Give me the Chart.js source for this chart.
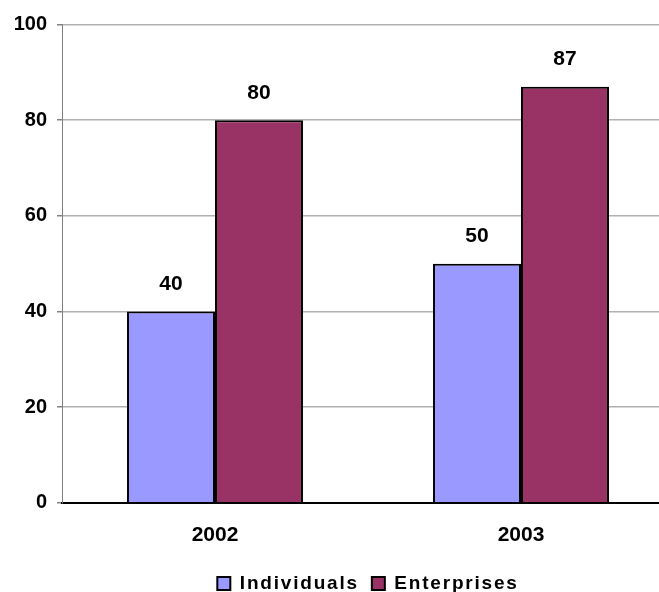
<!DOCTYPE html>
<html lang="en">
<head>
<meta charset="UTF-8" />
<title>Individuals vs Enterprises</title>
<style>
  html, body {
    margin: 0;
    padding: 0;
    background: #ffffff;
    overflow: hidden;
  }
  #wrap {
    position: relative;
    width: 748px;
    height: 603px;
  }
</style>
</head>
<body>
<div id="wrap">
  <canvas id="chart"></canvas>
</div>

<script src="https://cdn.jsdelivr.net/npm/chart.js"></script>
<script>
// chart data
const years = ['2002', '2003'];
const individuals = [40, 50];
const enterprises = [80, 87];
const yTicks = [0, 20, 40, 60, 80, 100];

const FONT = "'Liberation Sans', Arial, sans-serif";

// value labels above each bar
const valueLabels = {
  id: 'valueLabels',
  afterDatasetsDraw(chart) {
    const ctx = chart.ctx;
    ctx.save();
    ctx.font = 'bold 21px ' + FONT;
    ctx.fillStyle = '#000';
    ctx.textAlign = 'center';
    ctx.textBaseline = 'middle';
    chart.data.datasets.forEach((ds, i) => {
      chart.getDatasetMeta(i).data.forEach((bar, j) => {
        ctx.fillText(String(ds.data[j]), bar.x, bar.y - 27);
      });
    });
    ctx.restore();
  }
};

const chart = new Chart(document.getElementById('chart'), {
  type: 'bar',
  data: {
    labels: years,
    datasets: [
      {
        label: 'Individuals',
        data: individuals,
        backgroundColor: '#9999ff',
        borderColor: '#000000',
        borderWidth: 2
      },
      {
        label: 'Enterprises',
        data: enterprises,
        backgroundColor: '#993366',
        borderColor: '#000000',
        borderWidth: 2
      }
    ]
  },
  options: {
    responsive: true,
    maintainAspectRatio: false,
    animation: false,
    categoryPercentage: 0.575,
    barPercentage: 1,
    layout: { padding: { top: 24.5, right: 74, bottom: 0, left: 0 } },
    plugins: {
      tooltip: { enabled: false },
      legend: {
        position: 'bottom',
        fullSize: false,
        labels: {
          color: '#000',
          font: { family: FONT, size: 19, weight: 'bold' },
          boxWidth: 13,
          boxHeight: 13,
          padding: 13,
          useBorderRadius: false
        },
        onClick: null
      }
    },
    scales: {
      x: {
        grid: { display: false },
        border: { color: '#000', width: 2 },
        afterFit(scale) {
          scale.height += 1;
        },
        ticks: {
          color: '#000',
          font: { family: FONT, size: 21, weight: 'bold' },
          padding: 12
        }
      },
      y: {
        min: 0,
        max: 100,
        afterBuildTicks(scale) {
          scale.ticks = yTicks.map(v => ({ value: v }));
        },
        afterFit(scale) {
          scale.width = 62;
        },
        grid: {
          color: '#b0b0b0',
          lineWidth: 1.5,
          tickLength: 5,
          tickColor: '#808080'
        },
        border: { color: '#808080', width: 1 },
        ticks: {
          color: '#000',
          font: { family: FONT, size: 20, weight: 'bold' },
          padding: 10
        }
      }
    }
  },
  plugins: [valueLabels]
});

// legend text in the original is letter spaced
const spaced = fn => function (...args) {
  const ctx = this.ctx;
  ctx.save();
  ctx.letterSpacing = '1.8px';
  const r = fn.apply(this, args);
  ctx.restore();
  return r;
};
chart.legend.fit = spaced(chart.legend.fit);
chart.legend.draw = spaced(chart.legend.draw);
chart.update('none');
</script>
</body>
</html>
